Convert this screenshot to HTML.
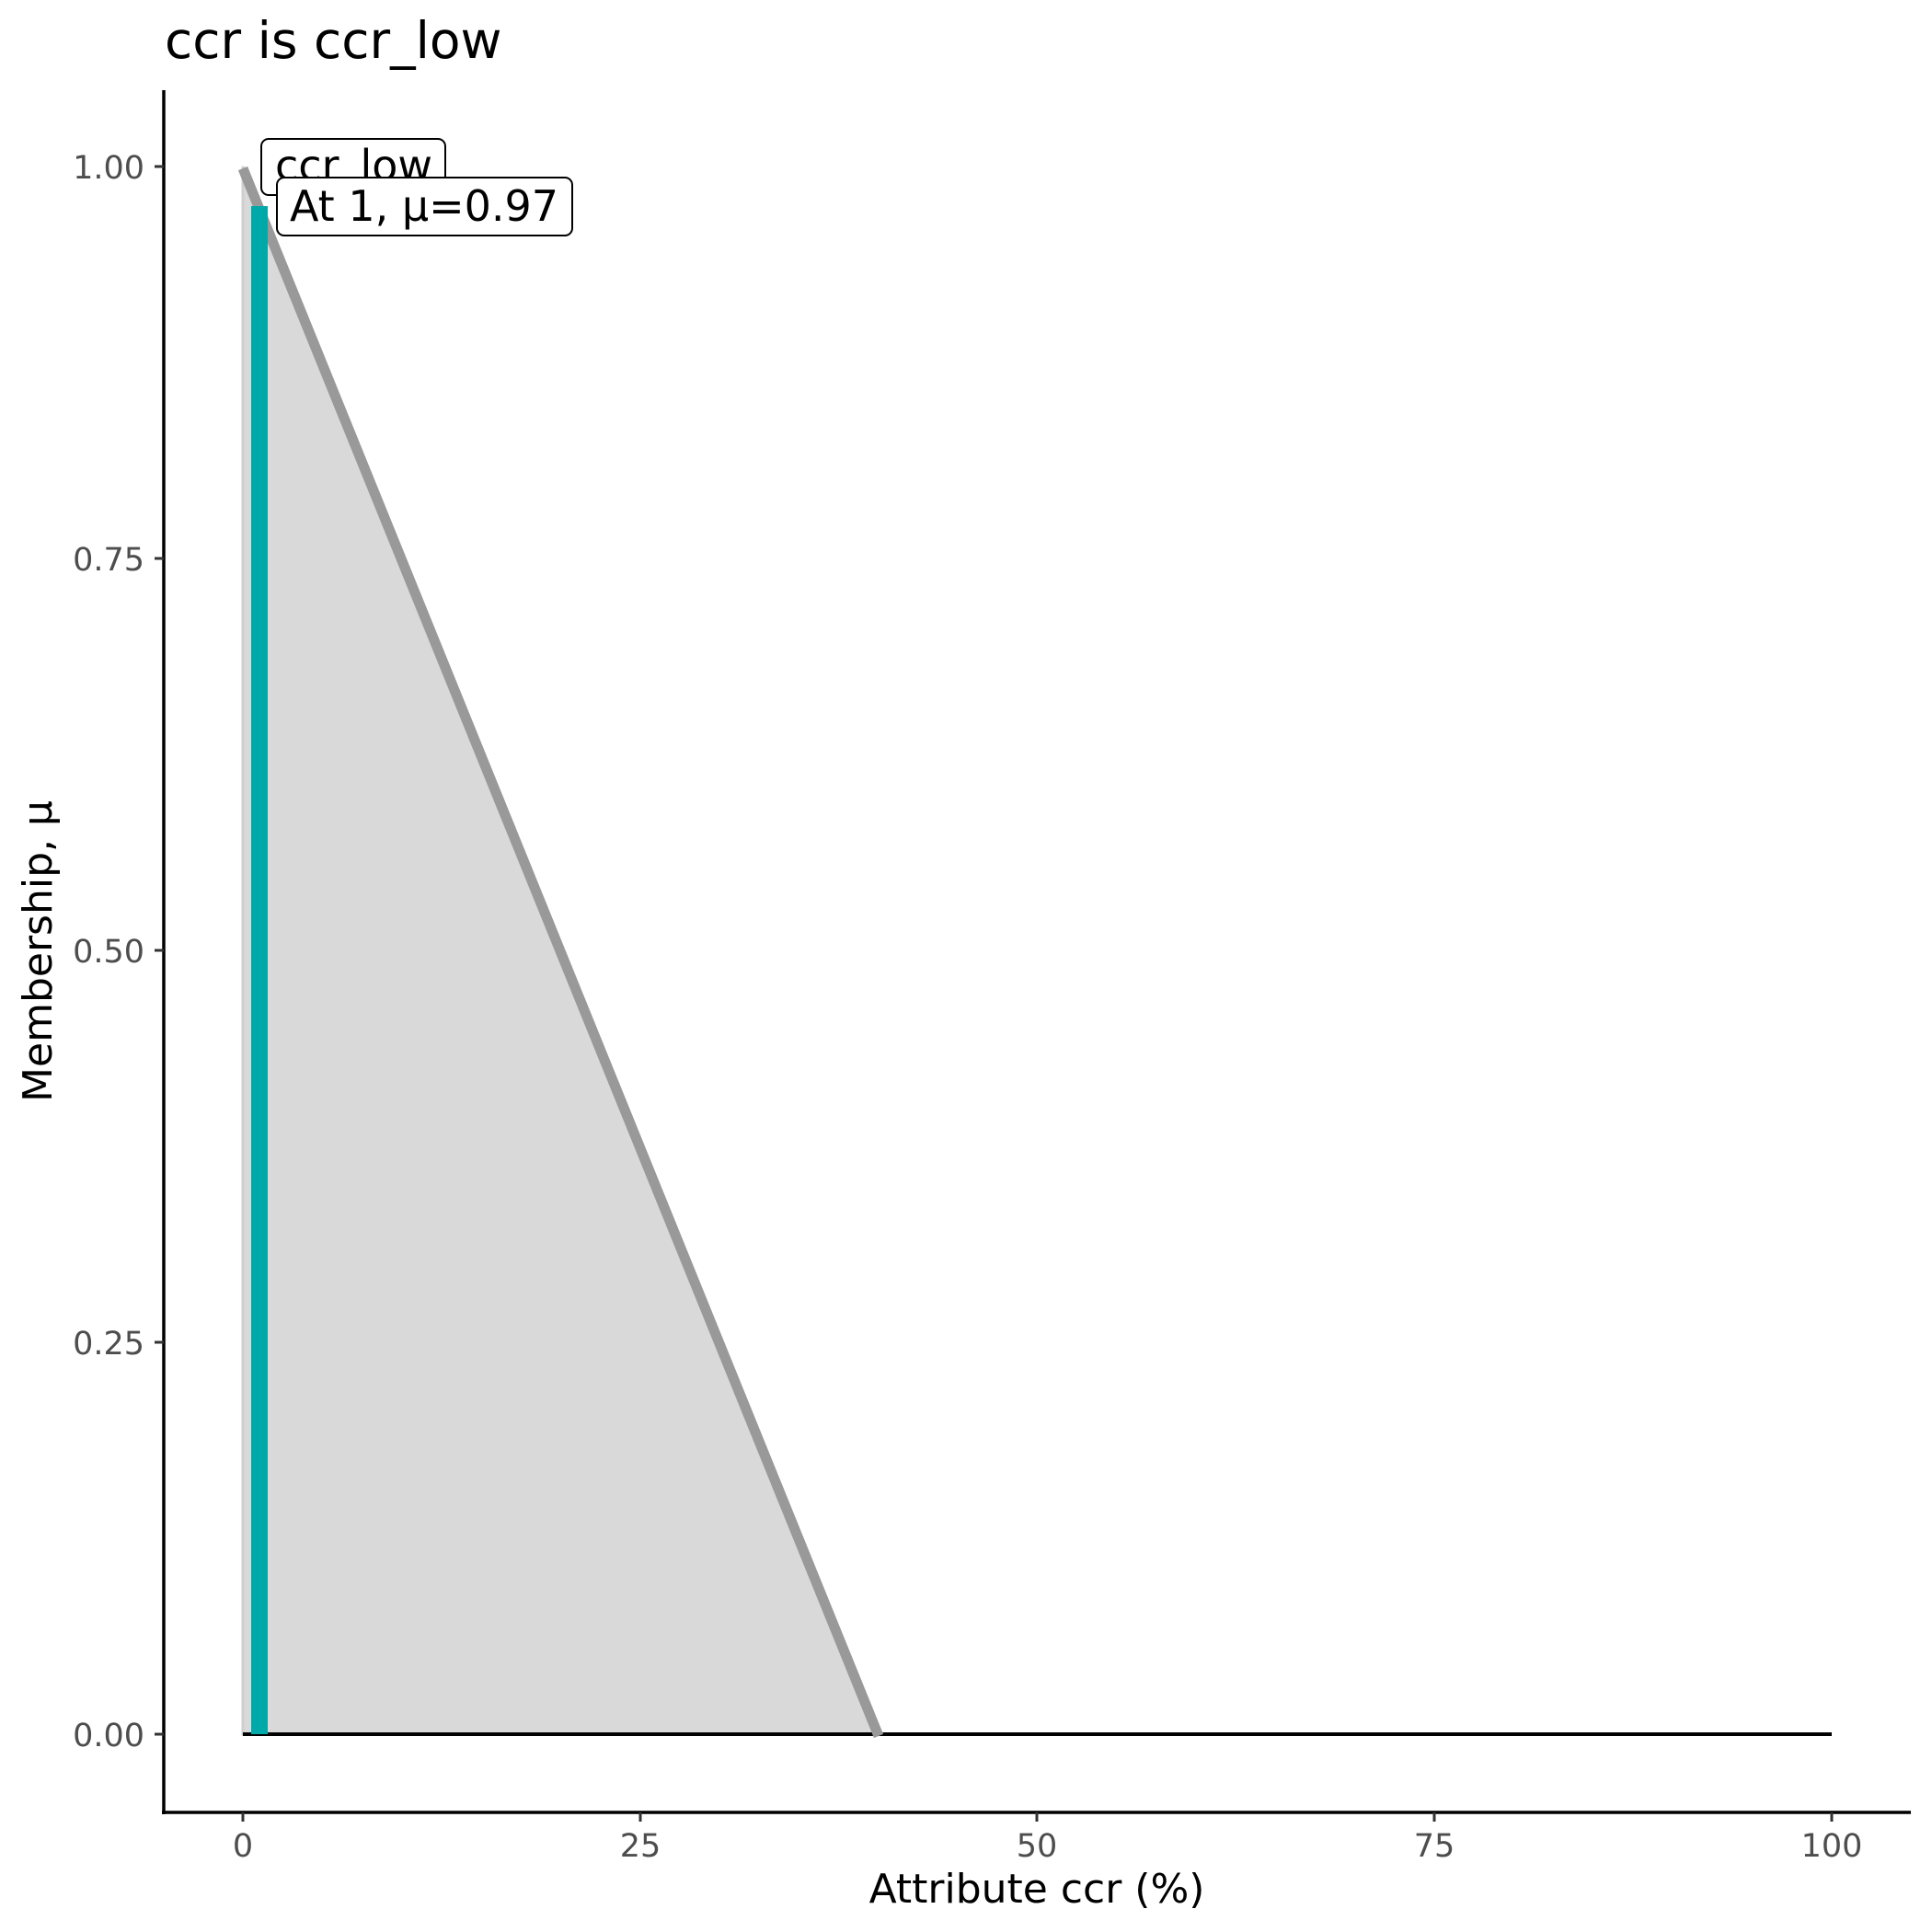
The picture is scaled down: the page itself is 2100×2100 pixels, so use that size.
<!DOCTYPE html>
<html><head><meta charset="utf-8"><style>html,body{margin:0;padding:0;background:#fff}svg{display:block}</style></head>
<body>
<svg width="2100" height="2100" viewBox="0 0 2100 2100" xmlns="http://www.w3.org/2000/svg" font-family="DejaVu Sans, Liberation Sans, sans-serif">
<rect width="2100" height="2100" fill="#fff"/>
<text x="179" y="63" font-size="55" fill="#000">ccr is ccr_low</text>
<polygon points="264,181 955,1885 264,1885" fill="#d9d9d9" stroke="#cfcfcf" stroke-width="3"/>
<line x1="264" y1="1885" x2="1991" y2="1885" stroke="#000" stroke-width="4"/>
<line x1="264" y1="183" x2="955" y2="1887" stroke="#999" stroke-width="11"/>
<rect x="273" y="224" width="18" height="1661" fill="#00a9a9"/>
<rect x="284" y="151" width="200" height="61" rx="8" fill="#fff" stroke="#000" stroke-width="2"/>
<text x="299" y="196" font-size="46" fill="#000">ccr_low</text>
<rect x="301" y="193" width="321" height="63" rx="8" fill="#fff" stroke="#000" stroke-width="2"/>
<text x="315" y="240" font-size="46" fill="#000">At 1, μ=0.97</text>
<line x1="178" y1="98" x2="178" y2="1972" stroke="#000" stroke-width="3.5"/>
<line x1="176" y1="1970" x2="2077" y2="1970" stroke="#000" stroke-width="3.5"/>
<g stroke="#333" stroke-width="3">
<line x1="168" y1="181" x2="178" y2="181"/><line x1="168" y1="607" x2="178" y2="607"/>
<line x1="168" y1="1033" x2="178" y2="1033"/><line x1="168" y1="1459" x2="178" y2="1459"/>
<line x1="168" y1="1885" x2="178" y2="1885"/>
<line x1="264" y1="1970" x2="264" y2="1980"/><line x1="696" y1="1970" x2="696" y2="1980"/>
<line x1="1127" y1="1970" x2="1127" y2="1980"/><line x1="1559" y1="1970" x2="1559" y2="1980"/>
<line x1="1991" y1="1970" x2="1991" y2="1980"/>
</g>
<g font-size="35" fill="#4d4d4d" text-anchor="end">
<text x="157" y="194">1.00</text><text x="157" y="620">0.75</text><text x="157" y="1046">0.50</text>
<text x="157" y="1472">0.25</text><text x="157" y="1898">0.00</text>
</g>
<g font-size="35" fill="#4d4d4d" text-anchor="middle">
<text x="264" y="2018">0</text><text x="696" y="2018">25</text><text x="1127" y="2018">50</text>
<text x="1559" y="2018">75</text><text x="1991" y="2018">100</text>
</g>
<text x="1127" y="2068" font-size="44" text-anchor="middle" fill="#000">Attribute ccr (%)</text>
<text transform="translate(56,1034) rotate(-90)" font-size="44" text-anchor="middle" fill="#000">Membership, μ</text>
</svg>
</body></html>
